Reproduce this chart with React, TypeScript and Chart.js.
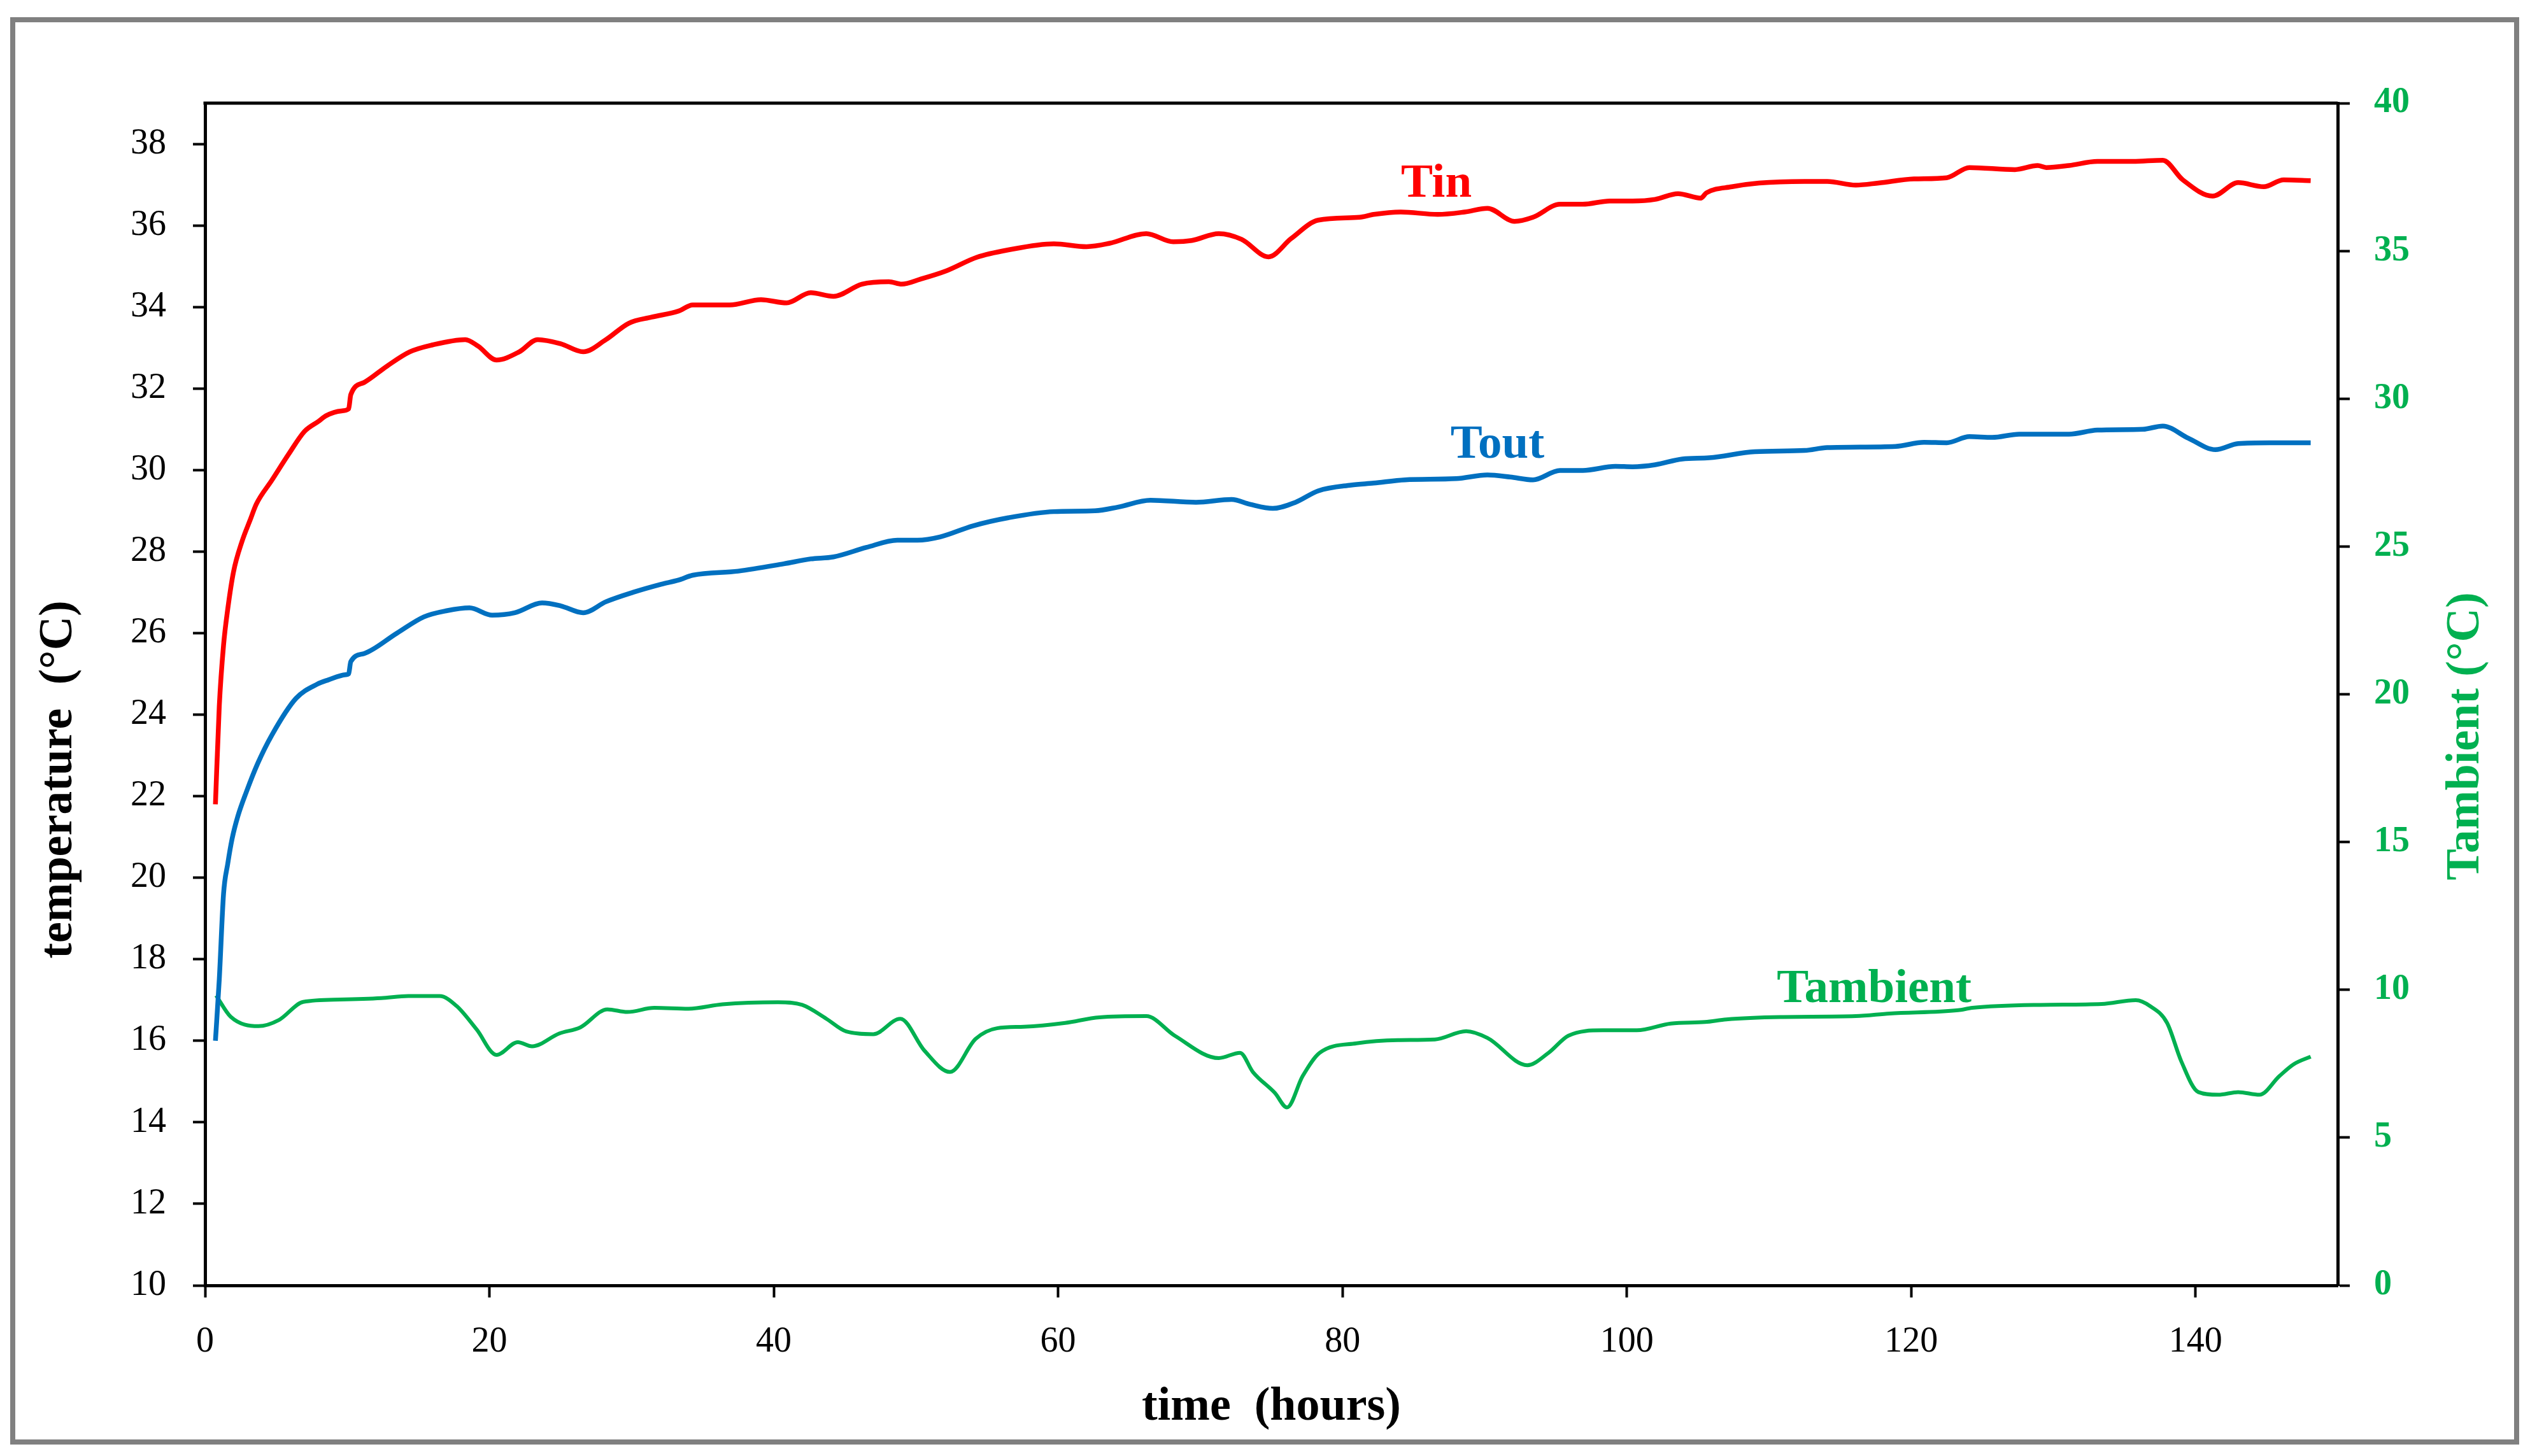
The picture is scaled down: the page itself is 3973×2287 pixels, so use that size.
import React, { useEffect, useRef } from "react";
import { Chart, registerables } from "chart.js";

Chart.register(...registerables);

// ---------- data ----------
const tinHours = [0.73, 1.0, 1.3, 1.6, 2.0, 2.6, 3.2, 3.6, 4.7, 5.9, 7.0, 8.0, 8.5, 9.6, 10.1, 10.25, 11.2, 12.8, 14.4, 16.0, 18.3, 19.2, 20.5, 22.1, 23.4, 25.0, 26.6, 28.2, 29.8, 31.4, 33.3, 34.3, 36.9, 39.1, 40.9, 42.6, 44.2, 46.2, 48.1, 49.0, 50.3, 52.1, 54.3, 56.5, 59.7, 62.0, 63.6, 66.2, 68.1, 69.4, 71.3, 72.9, 74.8, 76.4, 78.3, 81.2, 82.2, 84.1, 86.7, 88.6, 90.2, 92.1, 93.4, 95.3, 96.9, 98.8, 100.4, 102.0, 103.6, 105.2, 105.6, 107.4, 109.3, 112.5, 114.1, 116.1, 117.7, 120.2, 122.5, 124.1, 127.3, 128.9, 129.5, 131.1, 133.1, 135.6, 137.7, 139.1, 141.2, 143.0, 144.8, 146.2, 148.1];
const tinValues = [21.8, 24.2, 25.7, 26.6, 27.5, 28.25, 28.8, 29.16, 29.75, 30.4, 30.95, 31.2, 31.33, 31.45, 31.5, 31.85, 32.15, 32.55, 32.9, 33.07, 33.2, 33.04, 32.7, 32.9, 33.2, 33.1, 32.9, 33.2, 33.6, 33.75, 33.9, 34.05, 34.05, 34.18, 34.1, 34.35, 34.26, 34.56, 34.62, 34.56, 34.68, 34.88, 35.22, 35.4, 35.55, 35.48, 35.56, 35.8, 35.6, 35.63, 35.8, 35.66, 35.23, 35.68, 36.13, 36.2, 36.27, 36.33, 36.27, 36.33, 36.42, 36.1, 36.2, 36.52, 36.52, 36.6, 36.6, 36.64, 36.78, 36.67, 36.8, 36.95, 37.04, 37.08, 37.08, 36.99, 37.04, 37.14, 37.17, 37.42, 37.37, 37.47, 37.42, 37.47, 37.57, 37.57, 37.6, 37.12, 36.72, 37.05, 36.95, 37.12, 37.1];

const toutHours = [0.73, 1.0, 1.3, 1.6, 1.9, 2.3, 2.9, 3.7, 4.7, 6.4, 7.9, 8.65, 9.9, 10.1, 10.25, 11.2, 13.5, 15.4, 17.0, 18.6, 20.2, 21.8, 23.7, 25.0, 26.6, 28.2, 30.1, 32.1, 33.3, 34.3, 37.5, 40.7, 42.6, 44.2, 46.5, 48.7, 50.1, 51.7, 54.0, 56.5, 59.7, 62.6, 64.2, 66.5, 69.7, 72.2, 73.5, 75.1, 76.7, 78.3, 80.6, 82.2, 84.4, 88.0, 90.2, 91.8, 93.4, 95.3, 96.9, 99.2, 100.4, 102.0, 103.9, 105.8, 109.0, 112.5, 114.1, 118.9, 120.9, 122.5, 124.1, 125.7, 127.6, 131.1, 133.1, 136.3, 137.7, 139.5, 141.4, 143.0, 145.2, 148.1];
const toutValues = [16.0, 17.5, 19.6, 20.35, 20.95, 21.5, 22.1, 22.8, 23.5, 24.4, 24.75, 24.85, 24.98, 25.0, 25.3, 25.5, 26.0, 26.4, 26.55, 26.62, 26.44, 26.5, 26.74, 26.67, 26.5, 26.77, 27.0, 27.2, 27.3, 27.42, 27.52, 27.7, 27.82, 27.87, 28.1, 28.28, 28.28, 28.36, 28.63, 28.83, 28.98, 29.0, 29.09, 29.26, 29.21, 29.28, 29.16, 29.06, 29.21, 29.49, 29.63, 29.68, 29.76, 29.79, 29.88, 29.83, 29.76, 29.99, 29.99, 30.09, 30.08, 30.13, 30.27, 30.3, 30.45, 30.48, 30.55, 30.58, 30.68, 30.67, 30.82, 30.8, 30.88, 30.88, 30.98, 31.0, 31.08, 30.78, 30.5, 30.65, 30.67, 30.67];

const tambHours = [0.78, 1.8, 3.76, 5.2, 6.9, 9.5, 12.4, 14.3, 16.5, 17.7, 19.1, 20.5, 22.0, 23.0, 24.9, 26.4, 28.3, 29.7, 31.6, 34.0, 36.4, 40.3, 42.0, 43.7, 45.1, 47.0, 48.9, 50.6, 52.4, 54.2, 55.7, 57.6, 60.5, 62.9, 66.2, 68.2, 71.3, 72.8, 73.7, 75.25, 76.1, 77.2, 78.4, 81.0, 83.9, 86.5, 88.7, 90.2, 93.0, 94.5, 95.9, 98.3, 100.7, 103.1, 105.5, 107.0, 110.8, 116.1, 118.5, 123.3, 124.3, 129.1, 133.4, 135.8, 136.8, 138.0, 139.0, 140.2, 141.6, 143.0, 144.5, 145.9, 146.9, 148.1];
const tambValues = [9.81, 9.09, 8.77, 8.98, 9.59, 9.67, 9.72, 9.79, 9.79, 9.45, 8.66, 7.8, 8.23, 8.09, 8.52, 8.73, 9.34, 9.25, 9.39, 9.36, 9.51, 9.58, 9.49, 9.02, 8.59, 8.5, 9.02, 7.94, 7.22, 8.34, 8.7, 8.75, 8.88, 9.07, 9.11, 8.45, 7.69, 7.87, 7.22, 6.51, 6.02, 7.08, 7.87, 8.19, 8.3, 8.32, 8.6, 8.37, 7.45, 7.87, 8.45, 8.63, 8.63, 8.86, 8.91, 9.0, 9.08, 9.11, 9.2, 9.31, 9.39, 9.49, 9.52, 9.65, 9.45, 8.88, 7.58, 6.54, 6.45, 6.54, 6.45, 7.08, 7.48, 7.74];

const seriesNames = ["Tin", "Tout", "Tambient"];
const xTicks = [0, 20, 40, 60, 80, 100, 120, 140];
const yLeftTicks = [10, 12, 14, 16, 18, 20, 22, 24, 26, 28, 30, 32, 34, 36, 38];
const yRightTicks = [0, 5, 10, 15, 20, 25, 30, 35, 40];
const xTitle = "time  (hours)";
const yLeftTitle = "temperature  (°C)";
const yRightTitle = "Tambient (°C)";
// in-chart series labels: hour, value (on the series' own axis)
const labelHours = [86.6, 90.9, 117.4];
const labelValues = [37.0, 30.6, 10.0];

// ---------- styles ----------
const RED = "#FF0000";
const BLUE = "#0070C0";
const GREEN = "#00B050";
const SERIF = "'Liberation Serif', 'Times New Roman', serif";

const pts = (xs: number[], ys: number[]) => xs.map((x, i) => ({ x, y: ys[i] }));
const setTicks = (vals: number[]) => (scale: any) => {
  scale.ticks = vals.map((v) => ({ value: v }));
};

const decor = {
  id: "decor",
  beforeDraw(chart: any) {
    const ctx = chart.ctx;
    ctx.save();
    ctx.fillStyle = "#fff";
    ctx.fillRect(0, 0, chart.width, chart.height);
    ctx.strokeStyle = "#808080";
    ctx.lineWidth = 8;
    ctx.strokeRect(20, 31, 3932, 2234);
    ctx.restore();
  },
  afterDraw(chart: any) {
    const { ctx, chartArea: ca, scales } = chart;
    ctx.save();
    // top frame line
    ctx.strokeStyle = "#000";
    ctx.lineWidth = 5;
    ctx.beginPath();
    ctx.moveTo(ca.left - 2.5, ca.top);
    ctx.lineTo(ca.right, ca.top);
    ctx.stroke();

    // series labels
    const colors = [RED, BLUE, GREEN];
    const axes = ["y", "y", "y2"];
    ctx.font = `bold 75px ${SERIF}`;
    ctx.textAlign = "center";
    ctx.textBaseline = "middle";
    seriesNames.forEach((name, i) => {
      ctx.fillStyle = colors[i];
      ctx.fillText(name, scales.x.getPixelForValue(labelHours[i]), scales[axes[i]].getPixelForValue(labelValues[i]));
    });

    // axis titles
    ctx.font = `bold 74px ${SERIF}`;
    ctx.textBaseline = "alphabetic";
    ctx.fillStyle = "#000";
    ctx.fillText(xTitle, (ca.left + ca.right) / 2, ca.bottom + 211);

    ctx.save();
    ctx.translate(ca.left - 210, (ca.top + ca.bottom) / 2 + 134);
    ctx.rotate(-Math.PI / 2);
    ctx.fillText(yLeftTitle, 0, 0);
    ctx.restore();

    ctx.save();
    ctx.fillStyle = GREEN;
    ctx.translate(ca.right + 221, (ca.top + ca.bottom) / 2 + 66);
    ctx.rotate(-Math.PI / 2);
    ctx.fillText(yRightTitle, 0, 0);
    ctx.restore();

    ctx.restore();
  },
};

export default function App() {
  const ref = useRef<HTMLCanvasElement | null>(null);

  useEffect(() => {
    document.body.style.margin = "0";
    document.body.style.overflow = "hidden";
    const canvas = ref.current;
    if (!canvas) return;
    const axisCommon = {
      grid: { display: true, drawOnChartArea: false, drawTicks: true, tickLength: 19, tickWidth: 4, tickColor: "#000" },
      border: { display: true, color: "#000", width: 5 },
    };
    const chart = new Chart(canvas, {
      type: "line",
      data: {
        datasets: [
          { label: seriesNames[0], data: pts(tinHours, tinValues), yAxisID: "y", borderColor: RED, borderWidth: 7.5, pointRadius: 0, cubicInterpolationMode: "monotone", fill: false },
          { label: seriesNames[1], data: pts(toutHours, toutValues), yAxisID: "y", borderColor: BLUE, borderWidth: 7.5, pointRadius: 0, cubicInterpolationMode: "monotone", fill: false },
          { label: seriesNames[2], data: pts(tambHours, tambValues), yAxisID: "y2", borderColor: GREEN, borderWidth: 6, pointRadius: 0, cubicInterpolationMode: "monotone", fill: false },
        ],
      },
      options: {
        animation: false,
        responsive: true,
        maintainAspectRatio: false,
        devicePixelRatio: 1,
        layout: { padding: { top: 162, left: 0, right: 0, bottom: 0 } },
        plugins: { legend: { display: false }, tooltip: { enabled: false }, title: { display: false } },
        scales: {
          x: {
            type: "linear",
            position: "bottom",
            min: 0,
            max: 150,
            afterBuildTicks: setTicks(xTicks),
            afterFit: (s: any) => { s.height = 268; },
            ...axisCommon,
            ticks: { color: "#000", font: { family: SERIF, size: 56 }, padding: 37, maxRotation: 0, autoSkip: false },
          },
          y: {
            type: "linear",
            position: "left",
            min: 10,
            max: 39,
            afterBuildTicks: setTicks(yLeftTicks),
            afterFit: (s: any) => { s.width = 322; },
            ...axisCommon,
            ticks: { color: "#000", font: { family: SERIF, size: 56 }, padding: 42, autoSkip: false },
          },
          y2: {
            type: "linear",
            position: "right",
            min: 0,
            max: 40,
            afterBuildTicks: setTicks(yRightTicks),
            afterFit: (s: any) => { s.width = 302; },
            ...axisCommon,
            ticks: { color: GREEN, font: { family: SERIF, size: 56, weight: "bold" }, padding: 38, autoSkip: false },
          },
        },
      },
      plugins: [decor],
    } as any);
    return () => chart.destroy();
  }, []);

  return (
    <div style={{ position: "absolute", left: 0, top: 0, width: 3973, height: 2287, background: "#fff" }}>
      <canvas ref={ref} />
    </div>
  );
}
